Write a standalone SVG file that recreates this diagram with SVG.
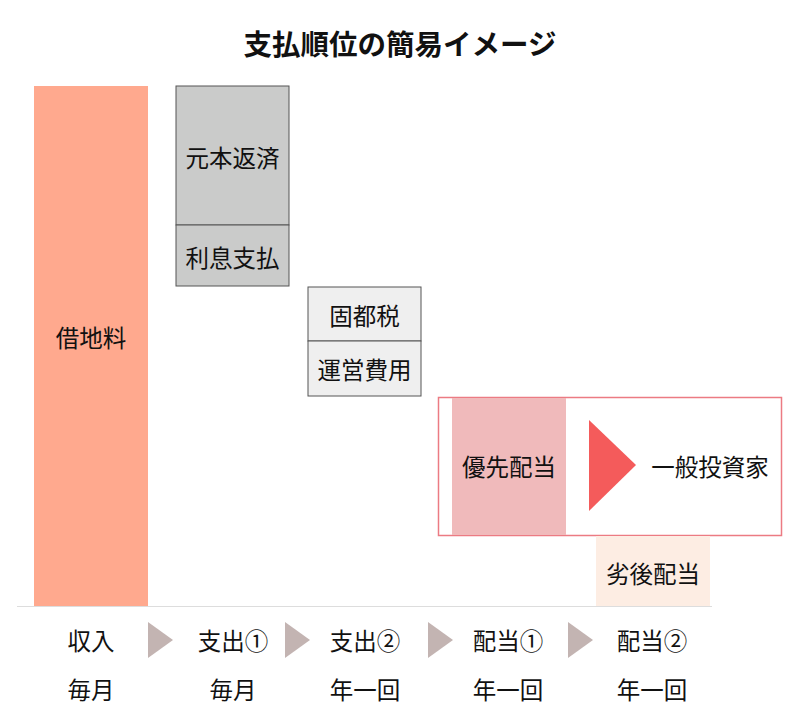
<svg xmlns="http://www.w3.org/2000/svg" width="800" height="724" viewBox="0 0 800 724">
<style>
text{font-family:"Noto Sans CJK JP","Noto Sans",sans-serif;fill:#111;text-anchor:middle;dominant-baseline:central;font-size:23.5px}
.title{font-size:28.5px;font-weight:bold}
.gray{fill:#CACBCA;stroke:#555;stroke-width:1}
.light{fill:#EFEFEF;stroke:#555;stroke-width:1}
.step{fill:#C3B4B2}
</style>
<rect width="800" height="724" fill="#fff"/>
<text class="title" x="400" y="42">支払順位の簡易イメージ</text>
<g id="rent"><rect x="34" y="86" width="114" height="520" fill="#FFA98E"/><text x="91" y="337">借地料</text></g>
<g id="principal"><rect class="gray" x="176" y="86" width="113" height="139"/><text x="232.5" y="157">元本返済</text></g>
<g id="interest"><rect class="gray" x="176" y="225" width="113" height="61"/><text x="232.5" y="257">利息支払</text></g>
<g id="tax"><rect class="light" x="308" y="287" width="113" height="54"/><text x="364.5" y="315">固都税</text></g>
<g id="opex"><rect class="light" x="308" y="341" width="113" height="55"/><text x="364.5" y="369">運営費用</text></g>
<g id="senior">
<rect x="438.5" y="397.5" width="343" height="138" fill="#fff" stroke="#EC7B83" stroke-width="1.5"/>
<rect x="452" y="398" width="114" height="137" fill="#F0BABB"/>
<text x="509" y="466">優先配当</text>
<polygon points="589,420 636,465 589,511" fill="#F45B5B"/>
<text x="710" y="466">一般投資家</text>
</g>
<g id="junior"><rect x="596" y="536" width="114" height="70" fill="#FDEDE3"/><text x="653" y="573">劣後配当</text></g>
<g id="connectors">
<line x1="17" y1="606.5" x2="712" y2="606.5" stroke="#DDD" stroke-width="1"/>
<polygon class="step" points="148,622 173,640 148,658"/>
<polygon class="step" points="285,622 310,640 285,658"/>
<polygon class="step" points="428,622 453,640 428,658"/>
<polygon class="step" points="568,622 593,640 568,658"/>
</g>
<g id="labels">
<text x="91" y="640">収入</text>
<text x="233" y="640">支出①</text>
<text x="365" y="640">支出②</text>
<text x="508" y="640">配当①</text>
<text x="652" y="640">配当②</text>
<text x="91" y="689">毎月</text>
<text x="233" y="689">毎月</text>
<text x="365" y="689">年一回</text>
<text x="508" y="689">年一回</text>
<text x="652" y="689">年一回</text>
</g>
</svg>
